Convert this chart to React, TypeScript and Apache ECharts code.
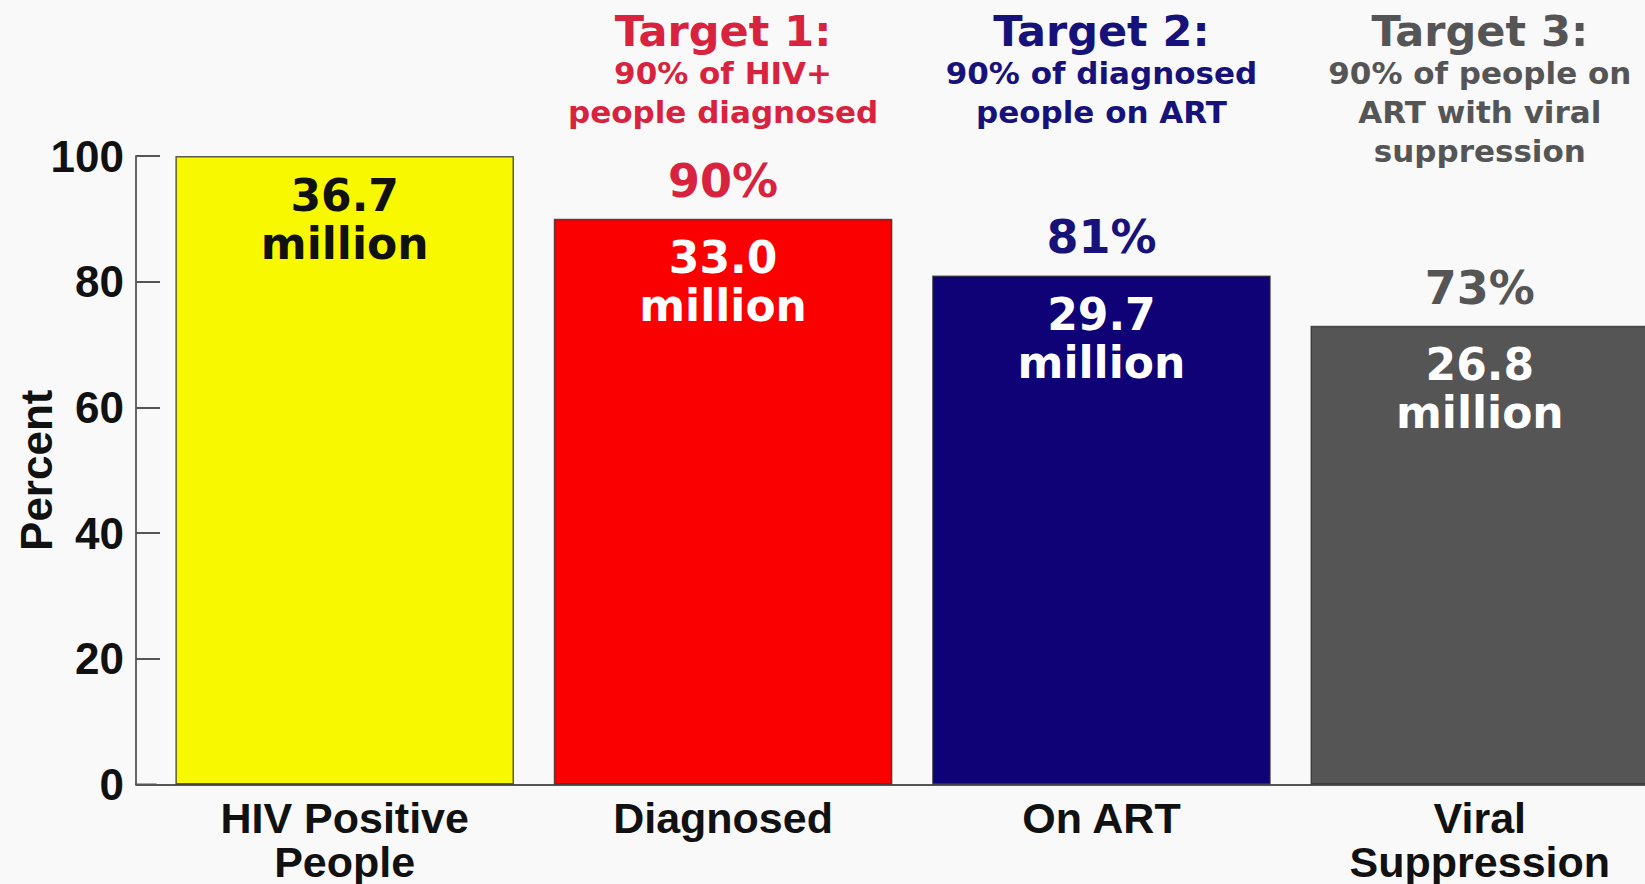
import React, { useEffect, useRef } from "react";
import * as echarts from "echarts";

const categories = ["HIV Positive\nPeople", "Diagnosed", "On ART", "Viral\nSuppression"];
const percentValues = [100, 90, 81, 73];
const millionValues = ["36.7", "33.0", "29.7", "26.8"];
const barColors = ["#F8F800", "#FA0000", "#0E0276", "#555555"];
const insideTextColors = ["#111111", "#FFFFFF", "#FFFFFF", "#FFFFFF"];
const accentColors = ["#111111", "#D8233F", "#17127A", "#555555"];
const targetTitles = ["", "Target 1:", "Target 2:", "Target 3:"];
const targetLines = [
  [],
  ["90% of HIV+", "people diagnosed"],
  ["90% of diagnosed", "people on ART"],
  ["90% of people on", "ART with viral", "suppression"],
];
const yTicks = [0, 20, 40, 60, 80, 100];

const W = 1645;
const H = 884;
const GRID_LEFT = 155.5;
const GRID_RIGHT = -24;
const GRID_TOP = 156;
const GRID_BOTTOM = 99.5;
const AXIS_X = 136;
const BLACK_FONT = '"DejaVu Sans", "Noto Sans", sans-serif';
const AXIS_FONT = '"Liberation Sans", Arial, Helvetica, sans-serif';

export default function App() {
  const ref = useRef<HTMLDivElement>(null);

  useEffect(() => {
    document.body.style.margin = "0";
    if (!ref.current) return;
    const chart = echarts.init(ref.current, undefined, { renderer: "svg" });

    const option: any = {
      animation: false,
      backgroundColor: "#F9F9F9",
      grid: {
        left: GRID_LEFT,
        right: GRID_RIGHT,
        top: GRID_TOP,
        bottom: GRID_BOTTOM,
        containLabel: false,
        outerBoundsMode: "none",
      },
      xAxis: {
        type: "category",
        data: categories,
        axisLine: { show: true, lineStyle: { color: "#555555", width: 2 } },
        axisTick: { show: false },
        axisLabel: {
          interval: 0,
          margin: 11,
          fontFamily: AXIS_FONT,
          fontWeight: "bold",
          fontSize: 43,
          lineHeight: 44,
          color: "#111111",
        },
      },
      yAxis: {
        type: "value",
        min: yTicks[0],
        max: yTicks[yTicks.length - 1],
        interval: 20,
        offset: GRID_LEFT - AXIS_X,
        name: "Percent",
        nameLocation: "middle",
        nameGap: 78,
        nameMoveOverlap: false,
        nameRotate: 90,
        nameTextStyle: {
          fontFamily: AXIS_FONT,
          fontWeight: "bold",
          fontSize: 44,
          lineHeight: 44,
          color: "#111111",
        },
        axisLine: { show: true, lineStyle: { color: "#666666", width: 2 } },
        axisTick: { show: true, inside: true, length: 24, lineStyle: { color: "#555555", width: 2 } },
        splitLine: { show: false },
        axisLabel: {
          margin: 12,
          fontFamily: AXIS_FONT,
          fontWeight: "bold",
          fontSize: 44,
          color: "#111111",
        },
      },
      series: [
        {
          type: "bar",
          barCategoryGap: "10.5%",
          data: percentValues.map((v, i) => ({
            value: v,
            itemStyle: {
              color: barColors[i],
              borderColor: "rgba(40,40,40,0.75)",
              borderWidth: 1.5,
            },
            label: {
              show: i > 0,
              position: "top",
              distance: 15,
              formatter: "{c}%",
              fontFamily: BLACK_FONT,
              fontWeight: "bold",
              fontSize: 46,
              lineHeight: 46,
              color: accentColors[i],
            },
          })),
        },
        {
          type: "bar",
          barGap: "-100%",
          barCategoryGap: "10.5%",
          silent: true,
          data: percentValues.map((v, i) => ({
            value: v,
            itemStyle: { color: "transparent", borderWidth: 0 },
            label: {
              show: true,
              position: "insideTop",
              distance: 15,
              formatter: `${millionValues[i]}\nmillion`,
              fontFamily: BLACK_FONT,
              fontWeight: "bold",
              fontSize: 44,
              lineHeight: 48,
              color: insideTextColors[i],
            },
          })),
        },
      ],
    };

    chart.setOption(option);

    const baselineY = chart.convertToPixel({ yAxisIndex: 0 }, 0) as number;
    const graphics: any[] = [
      {
        type: "line",
        shape: { x1: AXIS_X - 1, y1: baselineY, x2: GRID_LEFT + 1, y2: baselineY },
        style: { stroke: "#555555", lineWidth: 2 },
        z: 10,
      },
    ];
    categories.forEach((_, i) => {
      if (!targetTitles[i]) return;
      const cx = chart.convertToPixel({ xAxisIndex: 0 }, i) as number;
      graphics.push({
        type: "text",
        x: cx,
        y: 31,
        style: {
          text: targetTitles[i],
          fill: accentColors[i],
          font: `bold 43px ${BLACK_FONT}`,
          textAlign: "center",
          textVerticalAlign: "middle",
        },
      });
      targetLines[i].forEach((line, j) => {
        graphics.push({
          type: "text",
          x: cx,
          y: 73 + j * 39,
          style: {
            text: line,
            fill: accentColors[i],
            font: `bold 31px ${BLACK_FONT}`,
            textAlign: "center",
            textVerticalAlign: "middle",
          },
        });
      });
    });
    chart.setOption({ graphic: graphics });

    return () => chart.dispose();
  }, []);

  return (
    <div
      ref={ref}
      style={{ position: "absolute", left: 0, top: 0, width: W, height: H }}
    />
  );
}
